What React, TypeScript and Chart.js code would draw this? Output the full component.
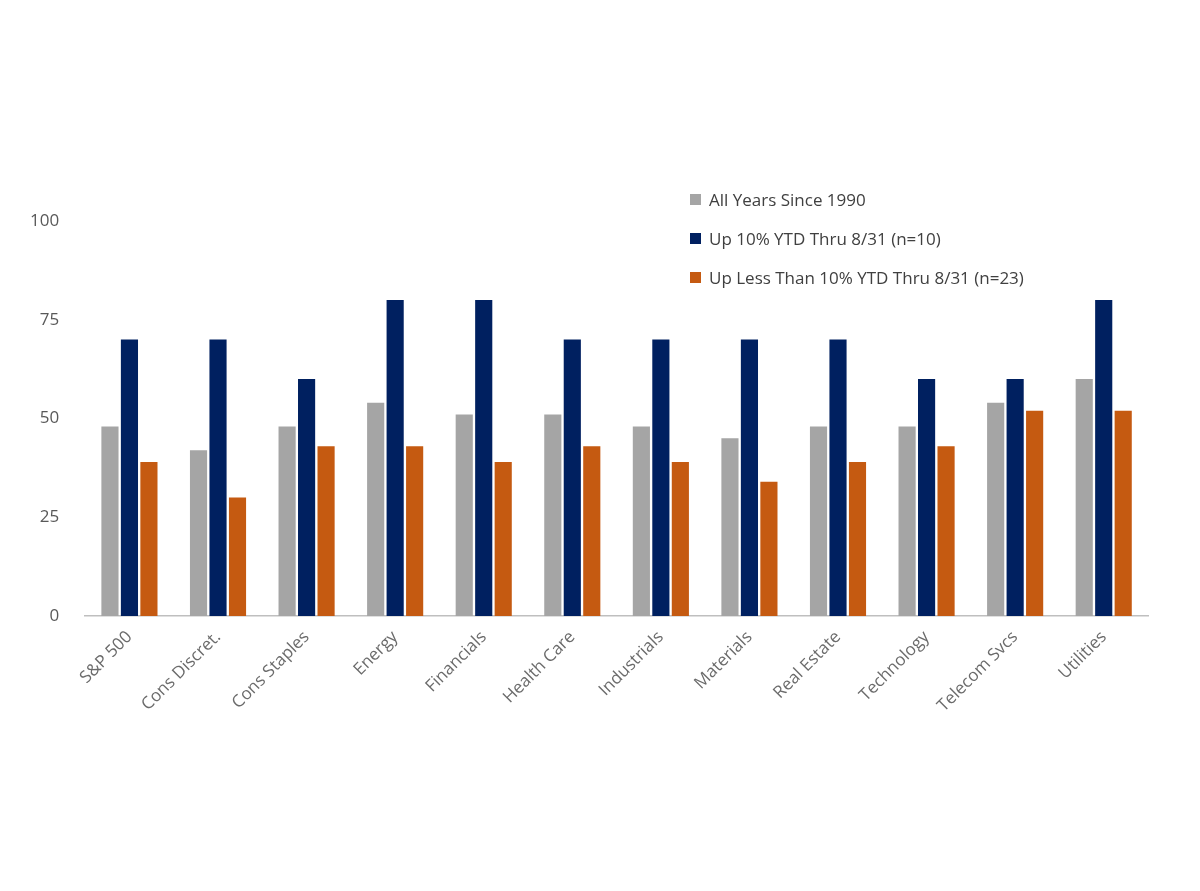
import React, { useEffect, useRef } from "react";
import { Chart, registerables } from "chart.js";
Chart.register(...registerables);

const categories = ["S&P 500", "Cons Discret.", "Cons Staples", "Energy", "Financials", "Health Care", "Industrials", "Materials", "Real Estate", "Technology", "Telecom Svcs", "Utilities"];
const allYears = [48, 42, 48, 54, 51, 51, 48, 45, 48, 48, 54, 60];
const up10 = [70, 70, 60, 80, 80, 70, 70, 70, 70, 60, 60, 80];
const upLess = [39, 30, 43, 43, 39, 43, 39, 34, 39, 43, 52, 52];
const legendLabels = ["All Years Since 1990", "Up 10% YTD Thru 8/31 (n=10)", "Up Less Than 10% YTD Thru 8/31 (n=23)"];
const colors = ["#a5a5a5", "#002060", "#c55a11"];

export default function App() {
  const ref = useRef<HTMLCanvasElement>(null);
  useEffect(() => {
    const chart = new Chart(ref.current!, {
      type: "bar",
      data: {
        labels: categories,
        datasets: [allYears, up10, upLess].map((d, i) => ({
          label: legendLabels[i], data: d, backgroundColor: colors[i],
          categoryPercentage: 0.66, barPercentage: 0.88,
        })),
      },
      options: {
        animation: false, responsive: false,
        layout: { padding: { top: 221, left: 12, right: 52, bottom: 172 } },
        plugins: { legend: { display: false }, tooltip: { enabled: false } },
        scales: {
          y: {
            min: 0, max: 100, ticks: { stepSize: 25, color: "#595959", font: { family: "Open Sans", size: 17 }, padding: 18 },
            grid: { display: false }, border: { display: false },
          },
          x: {
            ticks: { color: "#6b6b6b", font: { family: "Open Sans", size: 17 }, maxRotation: 45, minRotation: 45 },
            grid: { display: false }, border: { color: "#bfbfbf", width: 1.5 },
          },
        },
      },
    });
    return () => chart.destroy();
  }, []);
  return (
    <div style={{ position: "fixed", left: 0, top: 0, width: 1200, height: 891, background: "#fff" }}>
      <canvas ref={ref} width={1200} height={891} />
      <div style={{ position: "absolute", left: 690, top: 180, fontFamily: "Open Sans", fontSize: 17, color: "#404040" }}>
        {legendLabels.map((l, i) => (
          <div key={l} style={{ display: "flex", alignItems: "center", height: 39 }}>
            <span style={{ width: 11, height: 11, background: colors[i], marginRight: 8, display: "inline-block" }} />
            {l}
          </div>
        ))}
      </div>
    </div>
  );
}
